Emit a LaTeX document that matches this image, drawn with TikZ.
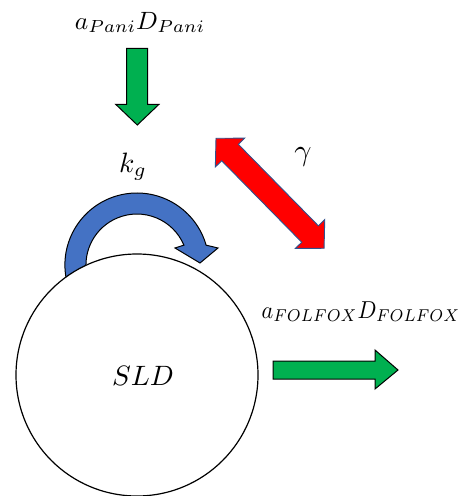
\documentclass[tikz,border=0pt]{standalone}
\usetikzlibrary{calc}
\definecolor{arrowgreen}{HTML}{00B050}
\definecolor{loopblue}{HTML}{4472C4}
\definecolor{linkred}{HTML}{FF0000}
\definecolor{rededge}{HTML}{2F528F}
\tikzset{
  greenarrow/.style={draw=black, line width=1pt, fill=arrowgreen, line join=miter},
  looparrow/.style={draw=black, line width=1pt, fill=loopblue, line join=miter},
  redarrow/.style={draw=rededge, line width=0.9pt, fill=linkred, line join=miter},
  compartment/.style={circle, draw=black, line width=1.2pt, fill=white, inner sep=0pt, minimum size=242pt},
  lbl/.style={inner sep=0pt, anchor=base, transform shape},
}
\begin{document}
\begin{tikzpicture}[x=1pt,y=1pt]
\useasboundingbox (0,0) rectangle (465,-496);

% inflow of panitumumab
\node[lbl, xscale=2.55, yscale=2.5] (pani) at (140,-29) {$a_{Pani}D_{Pani}$};
\draw[greenarrow] (126.7,-48.3) -- (147.7,-48.3) -- (147.7,-104.3) -- (159,-104.3)
  -- (137.3,-125) -- (115.7,-104.3) -- (126.7,-104.3) -- cycle;

% growth loop
\node[lbl, scale=2.8] (kg) at (133,-172) {$k_g$};
\draw[looparrow] (66,-277.5) arc[start angle=190, end angle=16, radius=72]
  -- (218,-248) -- (200,-263) -- (175,-248) -- (183.9,-245.1)
  arc[start angle=23, end angle=190, radius=51] -- cycle;

% interaction
\node[lbl, scale=3] (gam) at (303,-160) {$\gamma$};
\begin{scope}[shift={(216,-138.3)}, rotate=-45.5]
  \draw[redarrow] (0,0) -- (20,20.6) -- (20,11.7) -- (134.2,11.7) -- (134.2,20.6)
    -- (154.2,0) -- (134.2,-20.6) -- (134.2,-11.7) -- (20,-11.7) -- (20,-20.6) -- cycle;
\end{scope}

% compartment
\node[compartment] (sldcircle) at (137,-375) {};
\node[lbl, scale=2.8] (sld) at (143,-385) {$SLD$};

% outflow of FOLFOX
\node[lbl, xscale=2.22, yscale=2.45] (folfox) at (361,-318) {$a_{FOLFOX}D_{FOLFOX}$};
\draw[greenarrow] (273,-361) -- (375,-361) -- (375,-350) -- (398,-370)
  -- (375,-389) -- (375,-379) -- (273,-379) -- cycle;
\end{tikzpicture}
\end{document}
